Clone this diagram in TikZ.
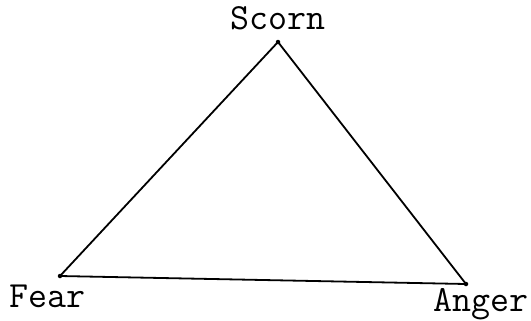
\documentclass[tikz,border=0pt]{standalone}
\usepackage{tikz}
\usetikzlibrary{positioning}
\tikzset{
  tri/vertex/.style={circle, fill=black, inner sep=0pt, minimum size=4.5bp},
  tri/label/.style={font=\fontsize{37}{37}\selectfont\ttfamily, inner sep=0pt},
  tri/side/.style={line width=1.8bp}
}
\begin{document}
\begin{tikzpicture}[x=1bp, y=-1bp, node distance=6bp and 0bp]
  \useasboundingbox (0,0) rectangle (531,320);

  % corners of the triangle
  \node[tri/vertex] (scornpt) at (278,42) {};
  \node[tri/vertex] (fearpt) at (60,276) {};
  \node[tri/vertex] (angerpt) at (466,284) {};

  % the three names
  \node[tri/label, above=9bp of scornpt] (scorn) {Scorn};
  \node[tri/label, below left=7bp and -27bp of fearpt] (fear) {Fear};
  \node[tri/label, below right=3bp and -34bp of angerpt] (anger) {Anger};

  % sides
  \draw[tri/side] (scornpt.center) -- (angerpt.center) -- (fearpt.center) -- cycle;
\end{tikzpicture}
\end{document}
